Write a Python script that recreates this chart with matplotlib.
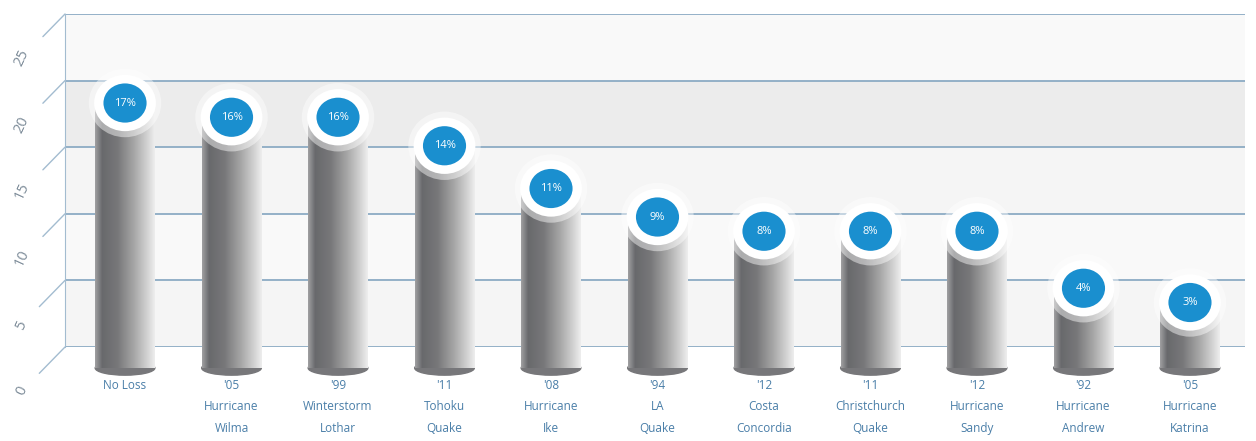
import numpy as np
import matplotlib
matplotlib.use("Agg")
from matplotlib import pyplot as plt
from matplotlib.patches import Ellipse
from matplotlib.colors import LinearSegmentedColormap

plt.rcParams["font.family"] = ["Open Sans", "DejaVu Sans"]

# data
categories = ["No Loss", "'05\nHurricane\nWilma", "'99\nWinterstorm\nLothar", "'11\nTohoku\nQuake",
              "'08\nHurricane\nIke", "'94\nLA\nQuake", "'12\nCosta\nConcordia", "'11\nChristchurch\nQuake",
              "'12\nHurricane\nSandy", "'92\nHurricane\nAndrew", "'05\nHurricane\nKatrina"]
values = [17, 16, 16, 14, 11, 9, 8, 8, 8, 4, 3]
wall_ticks = [0, 5, 10, 15, 20, 25]

W, H = 1256, 441
fig = plt.figure(figsize=(W / 100, H / 100), dpi=100)
fig.patch.set_facecolor("white")

# back wall with gridlines
ax_wall = fig.add_axes([65 / W, (H - 347) / H, (1245 - 65) / W, 333 / H])
ax_wall.set_ylim(0, 25)
ax_wall.set_xlim(0, 1)
band_colors = ["#f5f5f5", "#f9f9f9", "#f5f5f5", "#ececec", "#f9f9f9"]
for lo, hi, c in zip(wall_ticks[:-1], wall_ticks[1:], band_colors):
    ax_wall.axhspan(lo, hi, color=c, lw=0)
for t in wall_ticks:
    ax_wall.axhline(t, color="#8cabc4", lw=1.3)
    ax_wall.annotate(str(t), xy=(0, t), xytext=(-43, -44), textcoords="offset pixels",
                     ha="center", va="center", rotation=65, fontsize=10.5, color="#7d8c99",
                     annotation_clip=False,
                     arrowprops=dict(arrowstyle="-", color="#a3bcd0", lw=1.0, shrinkA=8, shrinkB=0))
for s in ["top", "right", "bottom"]:
    ax_wall.spines[s].set_visible(False)
ax_wall.spines["left"].set_color("#a3bcd0")
ax_wall.set_xticks([])
ax_wall.set_yticks([])

# front axes for the cylinders
ax = fig.add_axes([0, 0, 1, 1])
ax.patch.set_alpha(0)
ax.set_xlim(-1.174, 10.62)
ax.set_ylim(-6.32, 24.63)
ax.axis("off")

shade = LinearSegmentedColormap.from_list("cyl", [
    (0.0, "#a0a0a2"), (0.12, "#68696c"), (0.38, "#78787a"), (0.65, "#a6a6a6"),
    (0.88, "#d4d4d4"), (1.0, "#eeeeee")])
grad = np.linspace(0, 1, 256).reshape(1, -1)

bw = 0.56
base = -1.2
for i, v in enumerate(values):
    # bottom of the cylinder
    ax.add_patch(Ellipse((i, base), bw, 1.0, color="#77777a", zorder=2))
    ax.imshow(grad, cmap=shade, aspect="auto", extent=(i - bw / 2, i + bw / 2, base, v),
              zorder=3, interpolation="bilinear")
    # glow and top face
    ax.add_patch(Ellipse((i, v + 0.4), 0.68, 4.8, color="white", alpha=0.45, lw=0, zorder=4))
    ax.add_patch(Ellipse((i, v + 0.4), 0.58, 3.95, color="white", lw=0, zorder=4))
    ax.add_patch(Ellipse((i, v + 0.4), 0.405, 2.75, color="#1a8fcf", lw=0, zorder=5))
    ax.text(i, v + 0.4, f"{v}%", ha="center", va="center", color="white", fontsize=8, zorder=6)
    ax.text(i, -1.95, categories[i], ha="center", va="top", color="#4a7ea8", fontsize=8.5,
            linespacing=1.85, zorder=6)

fig.savefig("out.png", dpi=100, facecolor="white")
